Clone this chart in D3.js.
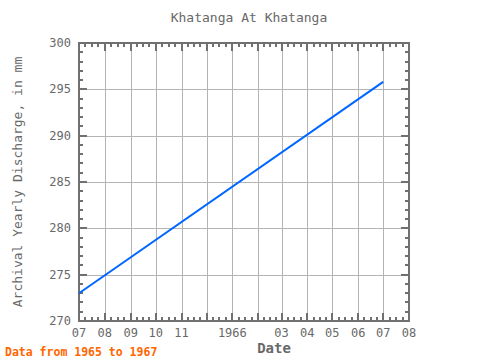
<!DOCTYPE html>
<html>
<head>
<meta charset="utf-8">
<script src="https://cdn.jsdelivr.net/npm/d3@7"></script>
<style>
  body { margin: 0; background: #fff; }
  text { font-family: "DejaVu Sans Mono", monospace; }
</style>
</head>
<body>
<div id="chart"></div>
<script>
// yearly values, plotted mid-year
const dates = ['1965-07-01', '1966-07-01'];
const discharge = [273.0, 295.8];

const xDomain = ['1965-07-01', '1966-08-01'];
const yDomain = [270, 300];
const yTicks = [270, 275, 280, 285, 290, 295, 300];

const width = 480, height = 360;
const margin = { top: 43, right: 71, bottom: 39, left: 79 };
const iw = width - margin.left - margin.right;
const ih = height - margin.top - margin.bottom;
const axisColor = '#707070';
const gridColor = '#b4b4b4';
const textColor = '#686868';

const parse = d3.timeParse('%Y-%m-%d');
const data = dates.map((d, i) => ({ date: parse(d), value: discharge[i] }));

const svg = d3.select('#chart').append('svg')
  .attr('width', width)
  .attr('height', height);

const x = d3.scaleTime().domain(xDomain.map(parse)).range([0, iw]);
const y = d3.scaleLinear().domain(yDomain).range([ih, 0]);

const g = svg.append('g')
  .attr('transform', `translate(${margin.left},${margin.top})`);

const months = d3.timeMonth.range(x.domain()[0], d3.timeDay.offset(x.domain()[1], 1));
// minor ticks: quarter-months
const minorX = [];
months.slice(0, -1).forEach((m, i) => {
  const a = x(m), b = x(months[i + 1]);
  for (let k = 1; k < 4; k++) minorX.push(a + (b - a) * k / 4);
});
const minorY = d3.range(yDomain[0], yDomain[1] + 1, 1).filter(v => v % 5 !== 0);

// grid
g.append('g').selectAll('line')
  .data(months.slice(1, -1))
  .join('line')
  .attr('x1', d => Math.round(x(d)) + 0.5).attr('x2', d => Math.round(x(d)) + 0.5)
  .attr('y1', 0).attr('y2', ih)
  .attr('stroke', gridColor);
g.append('g').selectAll('line')
  .data(yTicks.slice(1, -1))
  .join('line')
  .attr('x1', 0).attr('x2', iw)
  .attr('y1', d => Math.round(y(d)) + 0.5).attr('y2', d => Math.round(y(d)) + 0.5)
  .attr('stroke', gridColor);

// ticks (inward, on all four sides)
const ticks = g.append('g').attr('stroke', axisColor).attr('stroke-width', 2);
function vTicks(xs, len) {
  xs.forEach(px => {
    const xx = Math.round(px);
    ticks.append('line').attr('x1', xx).attr('x2', xx).attr('y1', ih).attr('y2', ih - len);
    ticks.append('line').attr('x1', xx).attr('x2', xx).attr('y1', 0).attr('y2', len);
  });
}
function hTicks(ys, len) {
  ys.forEach(py => {
    const yy = Math.round(py);
    ticks.append('line').attr('x1', 0).attr('x2', len).attr('y1', yy).attr('y2', yy);
    ticks.append('line').attr('x1', iw).attr('x2', iw - len).attr('y1', yy).attr('y2', yy);
  });
}
vTicks(months.map(x), 8);
vTicks(minorX, 4);
hTicks(yTicks.map(y), 8);
hTicks(minorY.map(y), 4);

// frame
g.append('rect')
  .attr('x', 0).attr('y', 0).attr('width', iw).attr('height', ih)
  .attr('fill', 'none').attr('stroke', axisColor).attr('stroke-width', 2);

// line
const line = d3.line().x(d => x(d.date)).y(d => y(d.value));
g.append('path')
  .datum(data)
  .attr('d', line)
  .attr('fill', 'none')
  .attr('stroke', '#0066ff')
  .attr('stroke-width', 2);

// x tick labels
const monthFmt = d => d.getMonth() === 0 ? d3.timeFormat('%Y')(d) : d3.timeFormat('%m')(d);
g.append('g').selectAll('text')
  .data(months.filter(d => d.getMonth() !== 11 && d.getMonth() !== 1))
  .join('text')
  .attr('x', d => x(d))
  .attr('y', ih + 16)
  .attr('text-anchor', 'middle')
  .attr('font-size', 12)
  .attr('fill', textColor)
  .text(monthFmt);

// y tick labels
g.append('g').selectAll('text')
  .data(yTicks)
  .join('text')
  .attr('x', -8)
  .attr('y', d => y(d) + 4)
  .attr('text-anchor', 'end')
  .attr('font-size', 12)
  .attr('fill', textColor)
  .text(d => d);

// titles
svg.append('text')
  .attr('x', 249).attr('y', 22)
  .attr('text-anchor', 'middle')
  .attr('font-size', 13)
  .attr('fill', textColor)
  .text('Khatanga At Khatanga');

svg.append('text')
  .attr('x', 274).attr('y', 353)
  .attr('text-anchor', 'middle')
  .attr('font-size', 14)
  .attr('font-weight', 'bold')
  .attr('fill', textColor)
  .text('Date');

svg.append('text')
  .attr('transform', `translate(22,${margin.top + ih / 2}) rotate(-90)`)
  .attr('text-anchor', 'middle')
  .attr('font-size', 13)
  .attr('fill', textColor)
  .text('Archival Yearly Discharge, in mm');

svg.append('text')
  .attr('x', 5).attr('y', 356)
  .attr('font-size', 11.5)
  .attr('font-weight', 'bold')
  .attr('fill', '#ff6600')
  .text('Data from 1965 to 1967');
</script>
</body>
</html>
